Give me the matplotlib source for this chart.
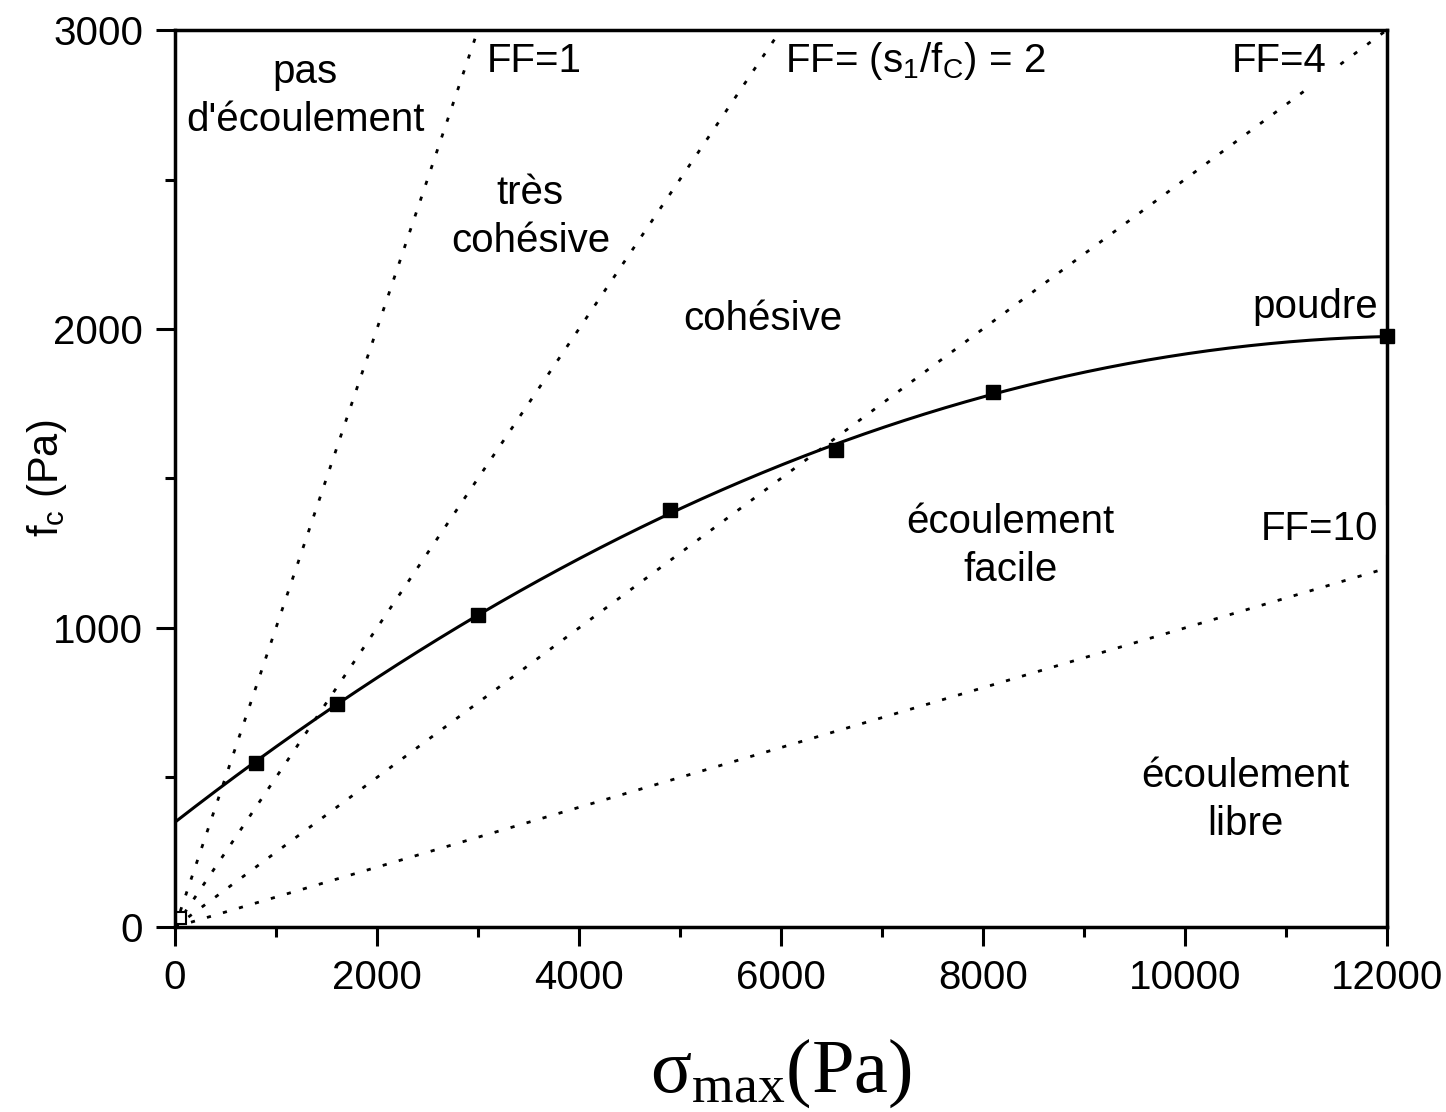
import numpy as np
import matplotlib
matplotlib.use("Agg")
import matplotlib.pyplot as plt
from matplotlib.ticker import MultipleLocator

plt.rcParams['font.family'] = ['Liberation Sans', 'DejaVu Sans']
plt.rcParams['mathtext.fontset'] = 'custom'
plt.rcParams['mathtext.rm'] = 'Liberation Serif'
plt.rcParams['mathtext.sf'] = 'Liberation Sans'
plt.rcParams['mathtext.it'] = 'Liberation Sans:italic'

# measured points (sigma_max, f_c) in Pa
sigma_pts = [800, 1600, 3000, 4900, 6550, 8100, 12000]
fc_pts = [550, 745, 1045, 1395, 1595, 1790, 1975]
# open point near origin
sigma_open = [50]
fc_open = [30]

# flow-function boundary lines  f_c = sigma / FF
ff_values = [1, 2, 4, 10]

# region / line labels: (text, x, y, ha)
labels = [
    ("pas\nd'écoulement", 1290, 2780, 'center'),
    ("très\ncohésive", 3520, 2375, 'center'),
    ("cohésive", 5820, 2035, 'center'),
    ("poudre", 11290, 2075, 'center'),
    ("écoulement\nfacile", 8270, 1275, 'center'),
    ("écoulement\nlibre", 10600, 425, 'center'),
]
line_labels = [
    ("FF=1", 3090, 2895, 'left'),
    (r"FF= (s$_\mathsf{1}$/f$_\mathsf{C}$) = 2", 6040, 2895, 'left'),
    ("FF=4", 10470, 2895, 'left'),
    ("FF=10", 10750, 1330, 'left'),
]

fig = plt.figure(figsize=(14.46, 11.12), dpi=100)
ax = fig.add_axes([0.121, 0.1664, 0.838, 0.8066])

# dotted FF lines
for ff in ff_values:
    xs = np.array([0, 12000])
    ax.plot(xs, xs / ff, color='black', lw=2, linestyle=(0, (1.5, 4.5)))

# quadratic fit through the points
coef = np.polyfit(sigma_pts, fc_pts, 2)
xfit = np.linspace(0, 12000, 300)
ax.plot(xfit, np.polyval(coef, xfit), color='black', lw=2.2)

ax.plot(sigma_pts, fc_pts, 's', color='black', markersize=10, clip_on=False)
ax.plot(sigma_open, fc_open, 's', mfc='white', mec='black', mew=1.5, markersize=9)

for txt, x, y, ha in labels:
    ax.text(x, y, txt, ha=ha, va='center', fontsize=29, linespacing=1.35)
for txt, x, y, ha in line_labels:
    ax.text(x, y, txt, ha=ha, va='center', fontsize=29,
            backgroundcolor='white')

ax.set_xlim(0, 12000)
ax.set_ylim(0, 3000)
ax.xaxis.set_major_locator(MultipleLocator(2000))
ax.xaxis.set_minor_locator(MultipleLocator(1000))
ax.yaxis.set_major_locator(MultipleLocator(1000))
ax.yaxis.set_minor_locator(MultipleLocator(500))
ax.tick_params(which='major', direction='out', length=14, width=2.2,
               labelsize=29, pad=9)
ax.tick_params(which='minor', direction='out', length=7, width=2.2)
for sp in ax.spines.values():
    sp.set_linewidth(2.5)

ax.set_xlabel(r'$\mathrm{\sigma_{max}(Pa)}$', fontsize=55, va='center')
ax.xaxis.set_label_coords(0.5, -0.163)
ax.set_ylabel(r'f$_\mathsf{c}$ (Pa)', fontsize=30, va='center')
ax.yaxis.set_label_coords(-0.106, 0.5)

fig.savefig('out.png', dpi=100)
